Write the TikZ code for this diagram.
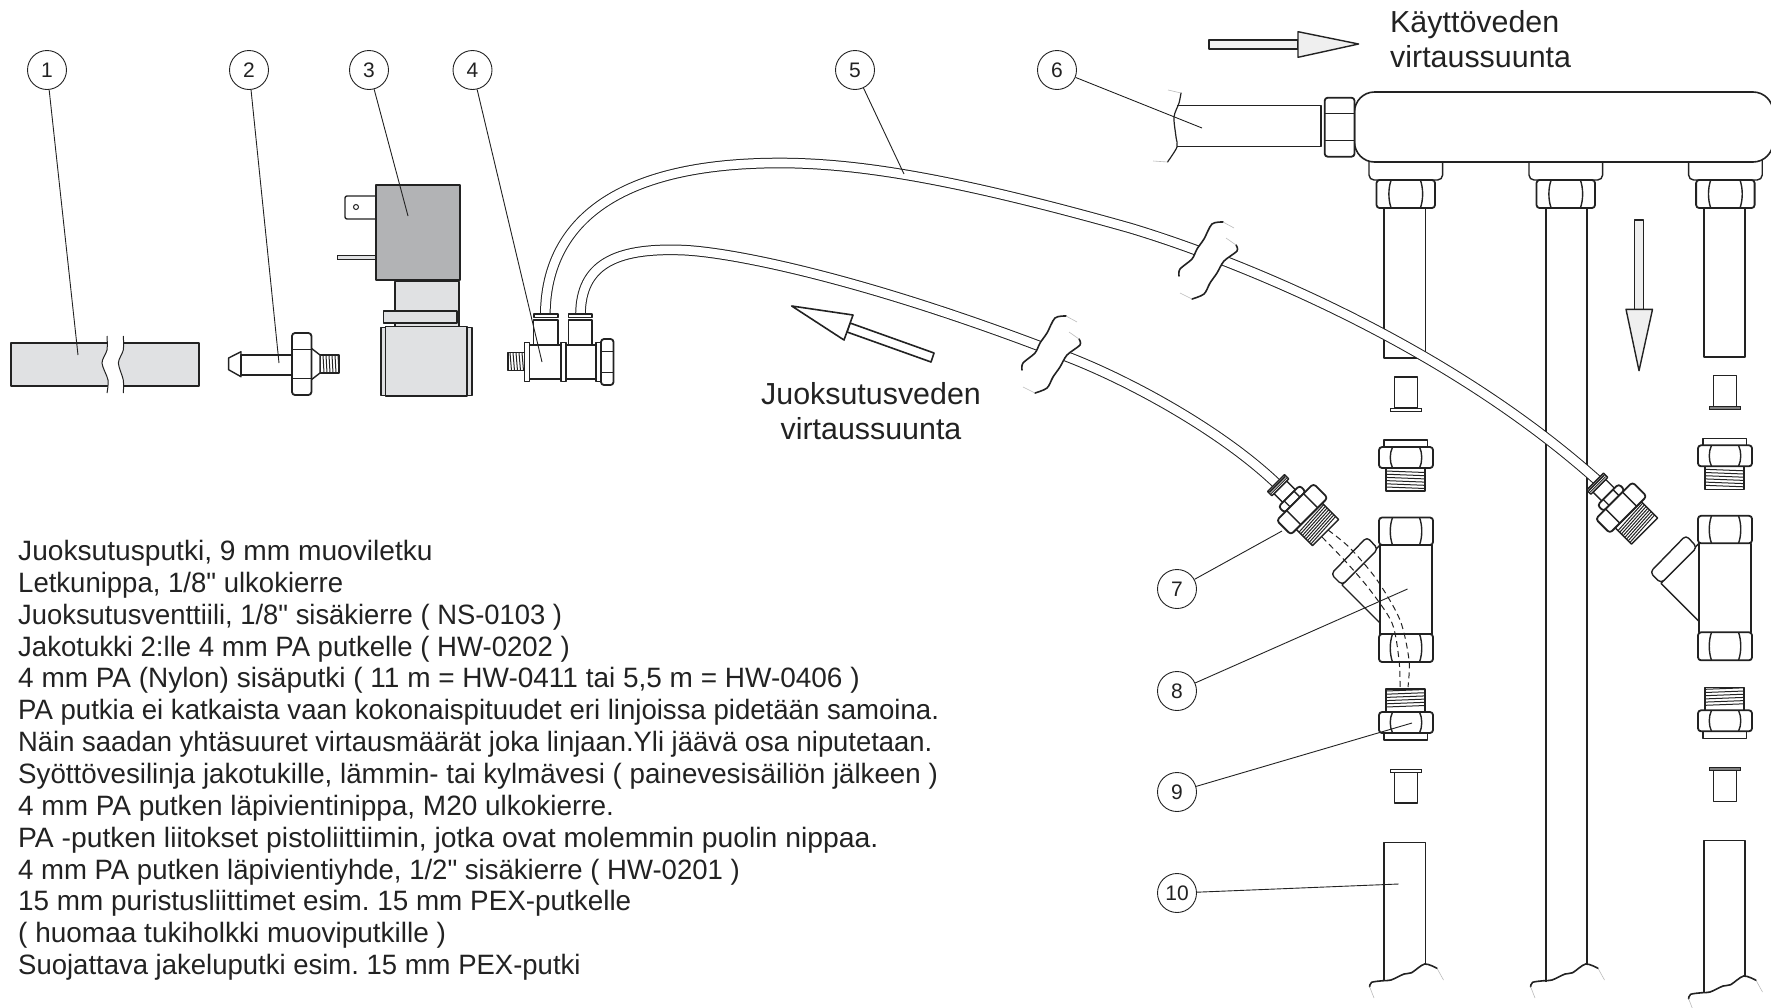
\documentclass[tikz,border=0pt]{standalone}
\usepackage{fontspec}
\setmainfont[Ligatures=TeXOff]{Liberation Sans}
\frenchspacing
\definecolor{ink}{HTML}{222222}
\definecolor{lightfill}{HTML}{E0E1E3}
\definecolor{coilfill}{HTML}{B2B3B5}
\definecolor{arrowfill}{HTML}{EFEFEF}
\definecolor{faint}{HTML}{BBBBBB}
\tikzset{
  part/.style={draw=ink,line width=1.4pt,line join=round},
  nutpart/.style={draw=ink,line width=1.8pt,line join=round},
  thinpart/.style={draw=ink,line width=1pt},
  leader/.style={draw=ink,line width=0.9pt},
  wave/.style={draw=ink,line width=1.6pt,line cap=round},
  fainted/.style={draw=faint,line width=0.6pt},
  tube/.style={draw=ink,line width=1pt,double=white,double distance=8.6pt},
  bubble/.style={circle,draw=ink,line width=0.9pt,minimum size=39pt,inner sep=0pt,text=ink,font=\fontsize{21}{21}\selectfont},
  labeltext/.style={anchor=base,inner sep=0pt,text=ink,font=\fontsize{30.4}{35}\selectfont},
  pics/tubebreak/.style={code={
    \fill[white] plot[smooth] coordinates {(1066,316)(1055,318)(1047,333)(1040,343)(1035,353)(1023,363)(1022,370)}
      -- plot[smooth] coordinates {(1035,393)(1047,388)(1053,377)(1060,367)(1067,355)(1080,345)(1079,339)} -- cycle;
    \draw[wave] plot[smooth] coordinates {(1066,316)(1055,318)(1047,333)(1040,343)(1035,353)(1023,363)(1022,370)};
    \draw[wave] plot[smooth] coordinates {(1079,339)(1080,345)(1067,355)(1060,367)(1053,377)(1047,388)(1035,393)};
    \draw[fainted] (1066,316) -- (1077,322) (1069,332) -- (1079,339) (1035,393) -- (1023,387);
  }},
  pics/pipeend/.style={code={
    \draw[wave] plot[smooth] coordinates {(1369.6,986.7)(1371.6,982.3)(1383,980.7)(1391,980)(1404,974)(1411.6,972.7)(1424.7,964)(1437,968.3)};
    \draw[fainted] (1369.6,986.7) -- (1374,998) (1437,968.3) -- (1443.5,980);
  }},
  pics/manifoldport/.style={code={
    \draw[part,fill=white,rounded corners=5] (1369,160) -- (1369,180) -- (1442.6,180) -- (1442.6,160);
    \hexA{1376.5}{180}{1435}{208}
  }},
  pics/fittingseven/.style={code={
    \draw[part,fill=white] (47,-18.5) rectangle (70,18.5);
    \foreach \u in {49,51.4,...,68} \draw[thinpart] (\u,-18.5) -- ({\u+2},18.5);
    \draw[part,fill=white] (6,-9) rectangle (18.5,9);
    \hexB{18.5}{-15}{27}{15}
    \hexB{27}{-26}{47}{26}
    \draw[part,fill=white] (0,-12) rectangle (6,12);
    \draw[line width=1.6pt,ink] (2,-11) -- (2,11);
    \draw[line width=0.8pt,ink] (4,-11) -- (4,11);
  }},
  pics/teecolumn/.style={code={
    % top bush
    \draw[part,fill=white] (1394.5,377) rectangle (1417.5,408);
    \draw[thinpart,fill=#1] (1390.5,408) rectangle (1421,411);
    % upper connector
    \draw[part,fill=white] (1384,440) rectangle (1427.5,447);
    \draw[part,fill=white] (1386,468) rectangle (1425,491);
    \foreach \v in {471,474.2,...,489} \draw[thinpart] (1386,\v) -- (1425,{\v+1.5});
    \hexA{1379}{447}{1433}{468}
    % tee branch, then body over it
    \draw[part,fill=white] (1380,545) -- (1342,585) -- (1380,623) -- cycle;
    \draw[part,fill=white,rounded corners=4] (1367,537) -- (1378,549) -- (1342,585) -- (1331,574) -- cycle;
    \draw[part,fill=white] (1380,545) rectangle (1432,634);
    \hexA{1379}{517.5}{1433}{545}
    \hexA{1379}{634}{1433}{662}
    % lower connector
    \draw[part,fill=white] (1384,733) rectangle (1427.5,740);
    \draw[part,fill=white] (1386,689) rectangle (1425,712);
    \foreach \v in {691,694.2,...,709} \draw[thinpart] (1386,\v) -- (1425,{\v-1.5});
    \hexA{1379}{712}{1433}{733}
    % lower bush
    \draw[part,fill=white] (1394.5,772) rectangle (1417.5,803);
    \draw[thinpart,fill=#1] (1390.5,769) rectangle (1421,772);
  }}
}
\newcommand{\hexA}[4]{%
  \pgfmathsetmacro{\xa}{#1+0.25*(#3-#1)}%
  \pgfmathsetmacro{\xb}{#1+0.75*(#3-#1)}%
  \pgfmathsetmacro{\ya}{#2+0.3*(#4-#2)}%
  \pgfmathsetmacro{\yb}{#2+0.7*(#4-#2)}%
  \draw[nutpart,fill=white,rounded corners=3] (#1,#2) rectangle (#3,#4);
  \draw[part] (\xa,#2) .. controls ({\xa-3},\ya) and ({\xa-3},\yb) .. (\xa,#4);
  \draw[part] (\xb,#2) .. controls ({\xb+3},\ya) and ({\xb+3},\yb) .. (\xb,#4);
}
\newcommand{\hexB}[4]{%
  \pgfmathsetmacro{\ya}{#2+0.27*(#4-#2)}%
  \pgfmathsetmacro{\yb}{#2+0.73*(#4-#2)}%
  \draw[nutpart,fill=white,rounded corners=3] (#1,#2) rectangle (#3,#4);
  \draw[part] (#1,\ya) -- (#3,\ya);
  \draw[part] (#1,\yb) -- (#3,\yb);
}
\newcommand{\legendline}[2]{\scalebox{#1}[1]{#2}}
\begin{document}
\begin{tikzpicture}[x=1pt,y=-1pt]
\useasboundingbox (0,0) rectangle (1771,1007);

% ---------- item 1: drain pipe
\draw[part,fill=lightfill] (11,343) rectangle (199,386);
\fill[white] plot[smooth] coordinates {(107,336)(107,350)(102,363)(108,380)(107,393)}
  -- plot[smooth] coordinates {(123.3,393)(123.3,380)(118.4,363)(123.3,350)(123.3,336)} -- cycle;
\draw[thinpart] plot[smooth] coordinates {(107,336)(107,350)(102,363)(108,380)(107,393)};
\draw[thinpart] plot[smooth] coordinates {(123.3,336)(123.3,350)(118.4,363)(123.3,380)(123.3,393)};

% ---------- item 2: hose nipple
\draw[part,fill=white] (241,351.7) -- (228.6,358) -- (228.6,369.7) -- (241,376.7) -- cycle;
\draw[part,fill=white] (241,355) rectangle (292,375);
\draw[part,fill=white] (320,355) rectangle (339,373);
\foreach \u in {323,326,...,338} \draw[thinpart] (\u,355) -- ({\u+1},373);
\draw[part,fill=white] (311,348) -- (320,355) -- (320,373) -- (311,380) -- cycle;
\hexB{292}{333}{311.4}{395}

% ---------- item 3: valve
\draw[part,fill=white,rounded corners=2] (376,196) -- (345,196) -- (345,219) -- (376,219);
\draw[thinpart] (356,207) circle (2.5);
\draw[thinpart,fill=lightfill] (337,255.7) rectangle (376,259);
\draw[part,fill=coilfill] (376,185) rectangle (460,280);
\draw[part,fill=lightfill] (395,281.7) rectangle (459,326.7);
\draw[part,fill=lightfill] (383.7,311) rectangle (457,323);
\draw[part,fill=lightfill] (381,327.5) rectangle (385.7,395.5);
\draw[part,fill=lightfill] (467,327.5) rectangle (472,395.5);
\draw[part,fill=lightfill] (385.7,326.7) rectangle (467,396);

% ---------- pipes behind the tubes
\draw[part] (1384,208) rectangle (1425.5,358);
\draw[part] (1704,207) rectangle (1745,357);
\draw[part] (1546,208) -- (1546,981.7);
\draw[part] (1587,208) -- (1587,964);
\draw[part] (1384,980.7) -- (1384,842.7) -- (1425.5,842.7) -- (1425.5,964);
\draw[part] (1704,991.7) -- (1704,840.7) -- (1745,840.7) -- (1745,977);
\pic at (0,0) {pipeend};
\pic at (161,0) {pipeend};
\pic at (319,12) {pipeend};

% ---------- item 5: the two PA tubes
\draw[tube] (545.3,314) .. controls (546,235) and (600,163) .. (780,163)
  .. controls (860,163) and (960,180) .. (1130,228)
  .. controls (1230,258) and (1440,340) .. (1597,480);
\draw[tube] (580.5,314) .. controls (581,265) and (615,248) .. (680,250)
  .. controls (725,251) and (860,276) .. (1068,357)
  .. controls (1130,381) and (1220,430) .. (1276,483);

% ---------- item 4: distributor
\draw[part,fill=white] (508,352.7) rectangle (524.5,370.7);
\foreach \u in {510,513,...,523} \draw[thinpart] (\u,352.7) -- ({\u+1.5},370.7);
\draw[part,fill=white] (533.5,320) rectangle (558,345);
\draw[part,fill=white] (568.6,320) rectangle (592,345);
\draw[part,fill=white] (534,314) rectangle (558,317.5);
\draw[part,fill=white] (568.6,314) rectangle (592,317.5);
\draw[part,fill=white] (529,345) rectangle (596,379);
\draw[part,fill=white] (524.5,342.7) rectangle (529.4,381.7);
\draw[part,fill=white] (561,342.7) rectangle (566,381.7);
\draw[part,fill=white] (596,342.7) rectangle (601,381.7);
\hexB{601}{339}{613.5}{385}

% ---------- breaks in the tubes
\pic at (0,0) {tubebreak};
\pic at (157,-94) {tubebreak};

% ---------- item 6: feed pipe and manifold
\fill[white] (1177,105.7) rectangle (1321,146.7);
\draw[part] (1177,105.7) -- (1321,105.7) -- (1321,146.7) -- (1177,146.7);
\draw[wave,line width=1.2pt] plot[smooth] coordinates {(1181,93)(1179,103)(1174,117)(1176,137)(1177,147)(1167.5,162)};
\draw[fainted] (1168,90) -- (1181,93) (1153,161) -- (1167.5,162);
\pic at (0,0) {manifoldport};
\pic at (160,0) {manifoldport};
\pic at (319.6,0) {manifoldport};
\draw[part,fill=white,rounded corners=20,line width=1.6pt] (1354.5,92) rectangle (1773,162);
\hexB{1324.7}{97.7}{1354.5}{156.7}

% ---------- items 7, 8, 9
\pic at (0,0) {teecolumn=white};
\pic at (319,-1.7) {teecolumn=gray};
\pic[rotate=-45] at (1276,483) {fittingseven};
\pic[rotate=-45] at (1595,481.5) {fittingseven};
\draw[ink,line width=1pt,dash pattern=on 6pt off 4pt] plot[smooth] coordinates {(1328,530)(1350,548)(1377,580)(1400,620)(1409,660)(1408,687)};
\draw[ink,line width=1pt,dash pattern=on 6pt off 4pt] plot[smooth] coordinates {(1322,537)(1347,563)(1370,590)(1392,623)(1399,660)(1400,687)};

% ---------- direction arrows
\draw[part,fill=arrowfill] (1209,40) rectangle (1298,49);
\draw[part,fill=arrowfill] (1298,31.7) -- (1358.6,44) -- (1298,57.3) -- cycle;
\draw[part,fill=arrowfill] (1634.5,220) rectangle (1643.5,309.3);
\draw[part,fill=arrowfill] (1626,309.3) -- (1652.5,309.3) -- (1639,370.7) -- cycle;
\draw[part,line width=1.6pt,fill=white] (850,323) -- (934,353) -- (931,362) -- (847,332) -- cycle;
\draw[part,line width=1.6pt,fill=white] (791.7,306) -- (853,315) -- (844,340) -- cycle;

% ---------- reference bubbles and leaders
\node[bubble] (b1) at (47,70) {1};
\node[bubble] (b2) at (249,70) {2};
\node[bubble] (b3) at (369,70) {3};
\node[bubble] (b4) at (472.5,70) {4};
\node[bubble] (b5) at (855,70) {5};
\node[bubble] (b6) at (1057,70) {6};
\node[bubble] (b7) at (1177,589) {7};
\node[bubble] (b8) at (1177,691) {8};
\node[bubble] (b9) at (1177,792) {9};
\node[bubble] (b10) at (1177,893) {10};
\coordinate (t1) at (78,355);
\coordinate (t2) at (279,363);
\coordinate (t3) at (408,216);
\coordinate (t4) at (542,362);
\coordinate (t5) at (904,174);
\coordinate (t6) at (1202,128);
\coordinate (t7) at (1282,531);
\coordinate (t8) at (1407.5,589);
\coordinate (t9) at (1412,723);
\coordinate (t10) at (1398.6,884);
\foreach \i in {1,...,10} \draw[leader] (b\i) -- (t\i);

% ---------- texts
\node[labeltext,anchor=base west] (use1) at (1390,32.5) {Käyttöveden};
\node[labeltext,anchor=base west] (use2) at (1390,67) {virtaussuunta};
\node[labeltext] (drain1) at (871,404) {Juoksutusveden};
\node[labeltext] (drain2) at (871,439) {virtaussuunta};
\node[anchor=north west,inner sep=0pt,align=left,text=ink,font=\fontsize{28}{31.85}\selectfont] (legend) at (18,540) {%
\legendline{1.005}{Juoksutusputki, 9 mm muoviletku}\\
\legendline{0.983}{Letkunippa, 1/8" ulkokierre}\\
\legendline{0.978}{Juoksutusventtiili, 1/8" sisäkierre ( NS-0103 )}\\
\legendline{0.984}{Jakotukki 2:lle 4 mm PA putkelle ( HW-0202 )}\\
\legendline{0.999}{4 mm PA (Nylon) sisäputki ( 11 m = HW-0411 tai 5,5 m = HW-0406 )}\\
\legendline{0.985}{PA putkia ei katkaista vaan kokonaispituudet eri linjoissa pidetään samoina.}\\
\legendline{0.979}{Näin saadan yhtäsuuret virtausmäärät joka linjaan.Yli jäävä osa niputetaan.}\\
\legendline{0.990}{Syöttövesilinja jakotukille, lämmin- tai kylmävesi ( painevesisäiliön jälkeen )}\\
\legendline{0.998}{4 mm PA putken läpivientinippa, M20 ulkokierre.}\\
\legendline{1.011}{PA -putken liitokset pistoliittiimin, jotka ovat molemmin puolin nippaa.}\\
\legendline{0.983}{4 mm PA putken läpivientiyhde, 1/2" sisäkierre ( HW-0201 )}\\
\legendline{0.995}{15 mm puristusliittimet esim. 15 mm PEX-putkelle}\\
\legendline{1.000}{( huomaa tukiholkki muoviputkille )}\\
\legendline{0.982}{Suojattava jakeluputki esim. 15 mm PEX-putki}};
\end{tikzpicture}
\end{document}
